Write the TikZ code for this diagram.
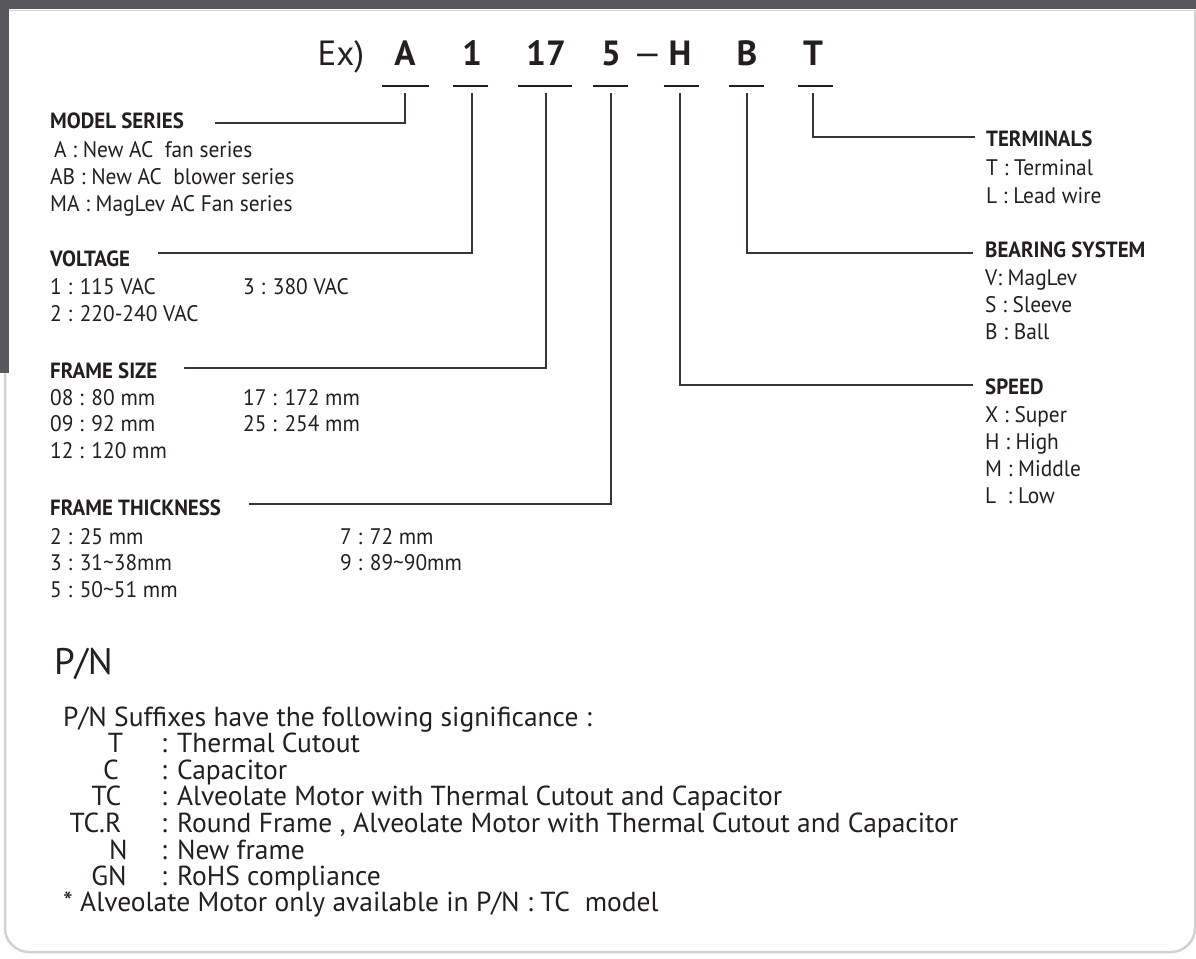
\documentclass[tikz,border=0pt]{standalone}
\usepackage{fontspec}
\setmainfont{PT Sans}
\newfontfamily\narrowfont[FakeStretch=0.95]{PT Sans}
\definecolor{ink}{HTML}{231F20}
\definecolor{bandgrey}{HTML}{58585A}
\definecolor{rimgrey}{HTML}{D2D2D2}

\begin{document}
\begin{tikzpicture}[x=1pt, y=-1pt,
    every node/.style={inner sep=0pt, text=ink},
    code/.style={font=\bfseries\fontsize{35}{40}\selectfont, anchor=base},
    head/.style={font=\narrowfont\bfseries\fontsize{22}{26}\selectfont, anchor=base west},
    item/.style={font=\narrowfont\fontsize{22.5}{26}\selectfont, anchor=base west},
    note/.style={font=\fontsize{27.5}{32}\selectfont, anchor=base west},
    lead/.style={draw=ink!90, line width=1.3pt},
    uline/.style={draw=ink, line width=2pt}]

  \useasboundingbox (0,0) rectangle (1196,958);

  % page frame
  \draw[rimgrey, line width=1pt] (0,10.5) -- (1196,10.5);
  \draw[rimgrey, line width=2.5pt, rounded corners=24pt] (5,10) -- (5,952) -- (1195,952) -- (1195,10);
  \fill[bandgrey] (0,0) rectangle (1196,9.5);
  \fill[bandgrey] (0,0) rectangle (9,373);

  % example code
  \node[code, font=\fontsize{35}{40}\selectfont] (ex) at (341,66) {Ex)};
  \foreach \name/\x/\txt in {cA/405/A, c1/472/1, c17/546/17, c5/611/5, cH/680/H, cB/747/B, cT/813/T}
    \node[code] (\name) at (\x,66) {\txt};
  \node[code, font=\fontsize{35}{40}\selectfont] (dash) at (647.5,66) {—};
  \foreach \x/\w in {405/23.5, 470/17.5, 545/27, 610/17.5, 681/17.5, 746/17.5, 815/17.5}
    \draw[uline] (\x-\w,86) -- (\x+\w,86);

  % left column
  \node[head] (ms) at (50,128) {MODEL SERIES};
  \node[item] (ms1) at (50,157) {\hspace{4pt}A : New AC\ \ fan series};
  \node[item] (ms2) at (50,184) {AB : New AC\ \ blower series};
  \node[item] (ms3) at (50,211) {MA : MagLev AC Fan series};

  \node[head] (vo) at (50,266) {VOLTAGE};
  \node[item] (vo1) at (50,294) {1 : 115 VAC};
  \node[item] (vo3) at (243,294) {3 : 380 VAC};
  \node[item] (vo2) at (50,321) {2 : 220-240 VAC};

  \node[head] (fs) at (50,378) {FRAME SIZE};
  \node[item] (fs08) at (50,405) {08 : 80 mm};
  \node[item] (fs17) at (243,405) {17 : 172 mm};
  \node[item] (fs09) at (50,431) {09 : 92 mm};
  \node[item] (fs25) at (243,431) {25 : 254 mm};
  \node[item] (fs12) at (50,458) {12 : 120 mm};

  \node[head] (ft) at (50,515) {FRAME THICKNESS};
  \node[item] (ft2) at (50,544) {2 : 25 mm};
  \node[item] (ft7) at (340,544) {7 : 72 mm};
  \node[item] (ft3) at (50,570) {3 : 31\char"7E 38mm};
  \node[item] (ft9) at (340,570) {9 : 89\char"7E 90mm};
  \node[item] (ft5) at (50,597) {5 : 50\char"7E 51 mm};

  % right column
  \node[head] (te) at (986,146) {TERMINALS};
  \node[item] (te1) at (986,175) {T : Terminal};
  \node[item] (te2) at (986,203) {L : Lead wire};

  \node[head] (be) at (985,257) {BEARING SYSTEM};
  \node[item] (be1) at (985,285) {V: MagLev};
  \node[item] (be2) at (985,312) {S : Sleeve};
  \node[item] (be3) at (985,339) {B : Ball};

  \node[head] (sp) at (985,394) {SPEED};
  \node[item] (sp1) at (985,422) {X : Super};
  \node[item] (sp2) at (985,449) {H : High};
  \node[item] (sp3) at (985,476) {M : Middle};
  \node[item] (sp4) at (985,503) {L\ \ : Low};

  % leaders, code letter to field
  \coordinate (msend) at (215,123);
  \coordinate (voend) at (158,253);
  \coordinate (fsend) at (184,368);
  \coordinate (ftend) at (249,504);
  \coordinate (teend) at (975,137);
  \coordinate (beend) at (973,253);
  \coordinate (spend) at (973,385);
  \draw[lead] (cA |- 0,93) |- (msend);
  \draw[lead] (c1 |- 0,93) |- (voend);
  \draw[lead] (c17 |- 0,93) |- (fsend);
  \draw[lead] (c5 |- 0,93) |- (ftend);
  \draw[lead] (cT |- 0,93) |- (teend);
  \draw[lead] (cB |- 0,93) |- (beend);
  \draw[lead] (cH |- 0,93) |- (spend);

  % part number suffixes
  \node[anchor=base west, font=\fontsize{37}{42}\selectfont] (pn) at (54,674) {P/N};
  \node[note] (pnintro) at (63,726) {P/N Suffixes have the following significance :};
  \foreach \name/\x/\y/\key/\txt in {
      sT/115.5/752/T/{: Thermal Cutout},
      sC/111/779/C/{: Capacitor},
      sTC/106.5/805/TC/{: Alveolate Motor with Thermal Cutout and Capacitor},
      sTCR/95.5/832/TC.R/{: Round Frame , Alveolate Motor with Thermal Cutout and Capacitor},
      sN/118.5/859/N/{: New frame},
      sGN/109/885/GN/{: RoHS compliance}} {
    \node[note, anchor=base] (\name) at (\x,\y) {\key};
    \node[note] (\name d) at (161,\y) {\txt};
  }
  \node[note] (pnstar) at (63,911) {* Alveolate Motor only available in P/N : TC\ \ model};
\end{tikzpicture}
\end{document}
